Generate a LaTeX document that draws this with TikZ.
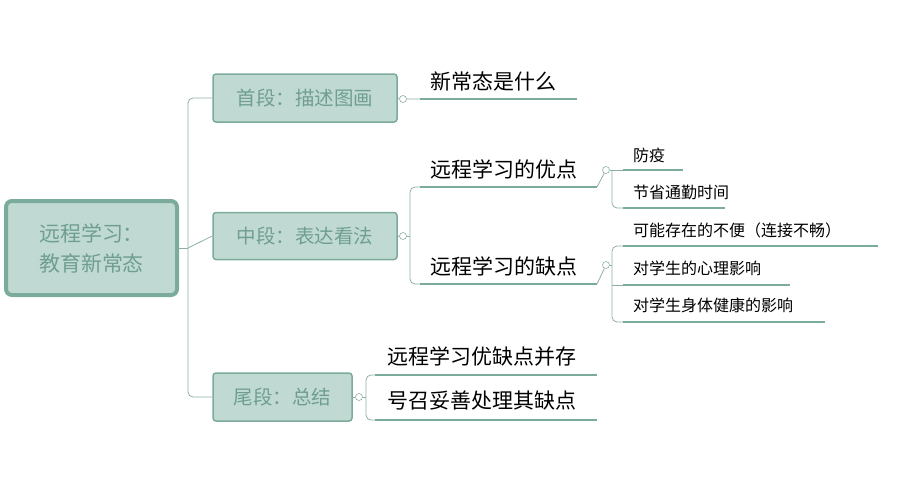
\documentclass[tikz,border=0pt]{standalone}
\usepackage{fontspec}
\setmainfont{Noto Sans CJK SC}
\begin{document}
\begin{tikzpicture}[x=1pt,y=-1pt,
  box/.style={draw=bd,fill=fl,rounded corners=3pt,line width=1.5pt,text=tx,font=\fontsize{19.5}{22}\selectfont,inner sep=0pt},
  ul/.style={draw=bd,line width=2.6pt},
  cn/.style={draw=ln,line width=0.8pt,rounded corners=5pt},
  tog/.style={circle,draw=ln,fill=white,line width=0.6pt,minimum size=7pt,inner sep=0pt},
  l2/.style={anchor=west,font=\fontsize{21}{24}\selectfont,inner sep=0pt},
  l3/.style={anchor=west,font=\fontsize{16}{18}\selectfont,inner sep=0pt}]
\definecolor{bd}{HTML}{7AAB9B}\definecolor{fl}{HTML}{C0DAD3}
\definecolor{tx}{HTML}{6F9E8F}\definecolor{ln}{HTML}{8FAFA6}
\useasboundingbox (0,0) rectangle (898,496);
% root
\node[box,line width=4pt,rounded corners=6pt,minimum width=171pt,minimum height=94pt,align=left,font=\fontsize{21}{30}\selectfont] (root) at (91.5,248) {远程学习：\\教育新常态};
\node[box,minimum width=184pt,minimum height=48pt] (b1) at (305,98) {首段：描述图画};
\node[box,minimum width=184pt,minimum height=47pt] (b2) at (305,236) {中段：表达看法};
\node[box,minimum width=139pt,minimum height=48pt] (b3) at (282.5,397) {尾段：总结};
\coordinate (j) at (188,248);
\draw[cn] (root.east) -- (j);
\draw[cn] (b1.west) -| (188,248) |- (b3.west);
\draw[cn] (j) -- (b2.west);
% level 2
\coordinate (u1a) at (420,99);\coordinate (u1b) at (577,99);
\node[l2] (t1) at (430,81) {新常态是什么};
\draw[ul] (u1a) -- (u1b);
\node[tog] (c1) at (403,99) {};
\draw[cn] (b1.east) -- (c1) -- (u1a);
\coordinate (u2a) at (420,187);\coordinate (u2b) at (597,187);
\coordinate (u3a) at (420,284);\coordinate (u3b) at (597,284);
\node[l2] (t2) at (430,169) {远程学习的优点};
\node[l2] (t3) at (430,266) {远程学习的缺点};
\draw[ul] (u2a) -- (u2b); \draw[ul] (u3a) -- (u3b);
\node[tog] (c2) at (403,236) {};
\draw[cn] (b2.east) -- (c2);
\draw[cn] (u2a) -| (410,236) |- (u3a);
\draw[cn] (c2) -- (410,236);
\coordinate (u4a) at (375,375);\coordinate (u4b) at (597,375);
\coordinate (u5a) at (375,420);\coordinate (u5b) at (597,420);
\node[l2] (t4) at (387,356) {远程学习优缺点并存};
\node[l2] (t5) at (387,401) {号召妥善处理其缺点};
\draw[ul] (u4a) -- (u4b); \draw[ul] (u5a) -- (u5b);
\node[tog] (c3) at (359,397) {};
\draw[cn] (b3.east) -- (c3) -- (366,397);
\draw[cn] (u4a) -| (366,397) |- (u5a);
% level 3
\node[tog] (c4) at (606,170) {};
\draw[cn] (u2b) -- (c4);
\coordinate (v1a) at (623,170);\coordinate (v1b) at (683,170);
\coordinate (v2a) at (623,208);\coordinate (v2b) at (725,208);
\node[l3] (s1) at (633,155) {防疫};
\node[l3] (s2) at (633,192) {节省通勤时间};
\draw[ul] (v1a) -- (v1b); \draw[ul] (v2a) -- (v2b);
\draw[cn] (c4) -- (v1a);
\draw[cn] (612,170) |- (v2a);
\node[tog] (c5) at (606,265) {};
\draw[cn] (u3b) -- (c5);
\coordinate (v3a) at (623,246);\coordinate (v3b) at (878,246);
\coordinate (v4a) at (623,285);\coordinate (v4b) at (790,285);
\coordinate (v5a) at (623,322);\coordinate (v5b) at (825,322);
\node[l3] (s3) at (633,230) {可能存在的不便（连接不畅）};
\node[l3] (s4) at (633,268) {对学生的心理影响};
\node[l3] (s5) at (633,305) {对学生身体健康的影响};
\draw[ul] (v3a) -- (v3b); \draw[ul] (v4a) -- (v4b); \draw[ul] (v5a) -- (v5b);
\draw[cn] (c5) -- (612,265);
\draw[cn] (v3a) -| (612,265) |- (v5a);
\draw[cn] (612,285) -- (v4a);
\end{tikzpicture}
\end{document}
